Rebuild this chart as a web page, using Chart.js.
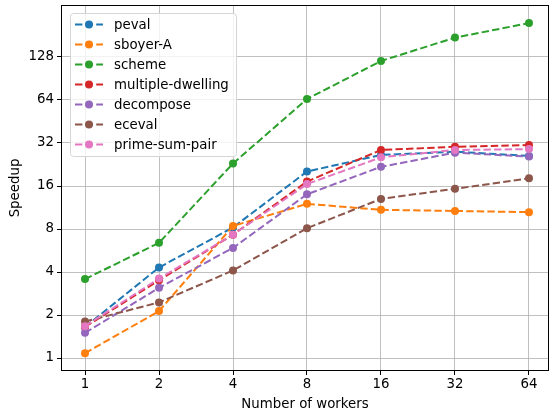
<!DOCTYPE html>
<html>
<head>
<meta charset="utf-8">
<script src="https://cdn.jsdelivr.net/npm/chart.js@4/dist/chart.umd.min.js"></script>
<style>
    html, body { margin: 0; padding: 0; background: #fff; }
    #box { width: 549px; height: 415px; }
</style>
</head>
<body>
<div id="box"><canvas id="speedup"></canvas></div>
<script>
// dati
const workers = [1, 2, 4, 8, 16, 32, 64];
const yTicks = [1, 2, 4, 8, 16, 32, 64, 128];

const peval = [1.65, 4.3, 8.2, 20.2, 26.4, 27.8, 26];
const sboyerA = [1.08, 2.13, 8.4, 12, 10.9, 10.7, 10.5];
const scheme = [3.57, 6.4, 23, 65, 120, 175, 221];
const multipleDwelling = [1.65, 3.5, 7.3, 17.2, 28.6, 30.1, 31];
const decompose = [1.5, 3.1, 5.9, 14, 21.8, 27.4, 25.7];
const eceval = [1.8, 2.45, 4.1, 8.1, 13, 15.3, 18.1];
const primeSumPair = [1.67, 3.6, 7.3, 16.5, 25.4, 28.6, 29];

const series = [
    ["peval", peval, "#1f77b4"],
    ["sboyer-A", sboyerA, "#ff7f0e"],
    ["scheme", scheme, "#2ca02c"],
    ["multiple-dwelling", multipleDwelling, "#d62728"],
    ["decompose", decompose, "#9467bd"],
    ["eceval", eceval, "#8c564b"],
    ["prime-sum-pair", primeSumPair, "#e377c2"],
];

const FONT = "DejaVu Sans";
const FSIZE = 13.33;
const DASH = [7.4, 3.2];

// cornice nera su tutti i lati + legenda in stile matplotlib
const frameAndLegend = {
    id: "frameAndLegend",
    afterDraw(chart) {
        const ctx = chart.ctx;
        const a = chart.chartArea;
        ctx.save();
        ctx.strokeStyle = "#000";
        ctx.lineWidth = 1;
        ctx.strokeRect(a.left - 0.5, a.top - 0.5, a.right - a.left + 1, a.bottom - a.top + 1);

        // legenda
        const x0 = 70.5, y0 = 13.5, w = 166, h = 143, r = 3;
        ctx.beginPath();
        ctx.moveTo(x0 + r, y0);
        ctx.arcTo(x0 + w, y0, x0 + w, y0 + h, r);
        ctx.arcTo(x0 + w, y0 + h, x0, y0 + h, r);
        ctx.arcTo(x0, y0 + h, x0, y0, r);
        ctx.arcTo(x0, y0, x0 + w, y0, r);
        ctx.closePath();
        ctx.fillStyle = "rgba(255,255,255,0.8)";
        ctx.fill();
        ctx.strokeStyle = "#d6d6d6";
        ctx.stroke();

        ctx.font = FSIZE + "px '" + FONT + "'";
        ctx.textBaseline = "middle";
        series.forEach((s, i) => {
            const y = 24.5 + i * 20;
            ctx.strokeStyle = s[2];
            ctx.lineWidth = 2;
            ctx.setLineDash(DASH);
            ctx.beginPath();
            ctx.moveTo(75, y);
            ctx.lineTo(103, y);
            ctx.stroke();
            ctx.setLineDash([]);
            ctx.fillStyle = s[2];
            ctx.beginPath();
            ctx.arc(89, y, 4, 0, Math.PI * 2);
            ctx.fill();
            ctx.fillStyle = "#000";
            ctx.fillText(s[0], 114, y + 1);
        });
        ctx.restore();
    },
};

function main() {
    new Chart(document.getElementById("speedup"), {
        type: "line",
        data: {
            datasets: series.map((s, i) => ({
                label: s[0],
                data: workers.map((w, j) => ({ x: w, y: s[1][j] })),
                borderColor: s[2],
                backgroundColor: s[2],
                borderWidth: 2,
                borderDash: DASH,
                pointRadius: 4,
                pointHoverRadius: 4,
                pointBorderWidth: 0,
                tension: 0,
                order: series.length - i, // l'ultima serie sopra, come matplotlib
            })),
        },
        options: {
            responsive: true,
            maintainAspectRatio: false,
            animation: false,
            layout: { autoPadding: false, padding: { top: 6, right: 1, left: 8, bottom: 0 } },
            scales: {
                x: {
                    type: "logarithmic",
                    min: Math.pow(2, -0.311),
                    max: Math.pow(2, 6.257),
                    afterBuildTicks: (sc) => { sc.ticks = workers.map(v => ({ value: v })); },
                    afterFit: (sc) => {
                        sc.height = 45;
                        sc.paddingLeft = 0;
                        sc.paddingRight = 0;
                    },
                    ticks: {
                        callback: (v) => String(v),
                        color: "#000",
                        font: { family: FONT, size: FSIZE },
                        padding: 2,
                        maxRotation: 0,
                        autoSkip: false,
                    },
                    grid: {
                        color: "#b0b0b0",
                        lineWidth: 0.8,
                        tickColor: "#000",
                        tickLength: 5,
                        tickWidth: 1,
                    },
                    border: { display: false },
                    title: {
                        display: true,
                        text: "Number of workers",
                        color: "#000",
                        font: { family: FONT, size: FSIZE },
                        padding: { top: 0, bottom: 2 },
                    },
                },
                y: {
                    type: "logarithmic",
                    min: Math.pow(2, -0.279),
                    max: Math.pow(2, 8.186),
                    afterBuildTicks: (sc) => { sc.ticks = yTicks.map(v => ({ value: v })); },
                    afterFit: (sc) => {
                        sc.width = 54;
                        sc.paddingTop = 0;
                        sc.paddingBottom = 0;
                    },
                    ticks: {
                        callback: (v) => String(v),
                        color: "#000",
                        font: { family: FONT, size: FSIZE },
                        padding: 3,
                        autoSkip: false,
                    },
                    grid: {
                        color: "#b0b0b0",
                        lineWidth: 0.8,
                        tickColor: "#000",
                        tickLength: 5,
                        tickWidth: 1,
                    },
                    border: { display: false },
                    title: {
                        display: true,
                        text: "Speedup",
                        color: "#000",
                        font: { family: FONT, size: FSIZE },
                        padding: { top: 0, bottom: 0 },
                    },
                },
            },
            plugins: {
                legend: { display: false },
                tooltip: { enabled: false },
            },
        },
        plugins: [frameAndLegend],
    });
}

document.addEventListener("DOMContentLoaded", main);
</script>
</body>
</html>
